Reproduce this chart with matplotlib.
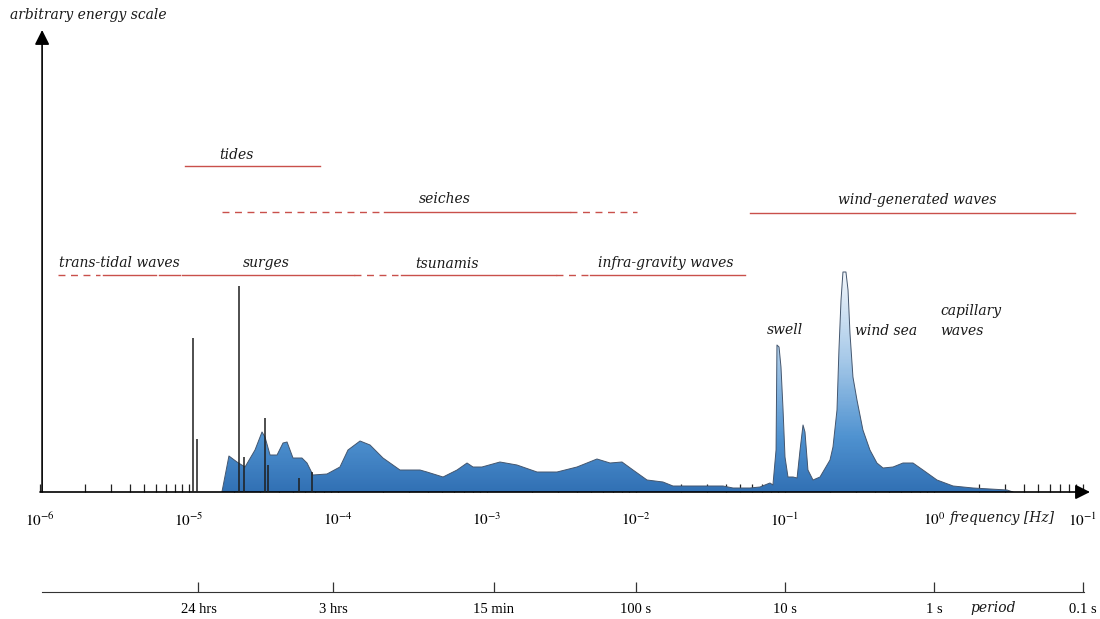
import matplotlib
import numpy as np

matplotlib.use("Agg")
import matplotlib.pyplot as plt
from matplotlib import ticker
from matplotlib.colors import LinearSegmentedColormap

plt.rcParams["mathtext.fontset"] = "stix"

# Spectrum outline: log10(frequency / Hz) and energy (arbitrary units)
spectrum_log_freq = [
    -4.779, -4.732, -4.678, -4.624, -4.557, -4.510, -4.490, -4.456, -4.409, -4.369,
    -4.342, -4.322, -4.302, -4.242, -4.208, -4.168, -4.074, -3.987, -3.933, -3.852,
    -3.785, -3.698, -3.584, -3.450, -3.403, -3.295, -3.201, -3.134, -3.094, -3.034,
    -2.913, -2.799, -2.664, -2.530, -2.396, -2.262, -2.174, -2.094, -2.020, -1.926,
    -1.819, -1.752, -1.416, -1.349, -1.235, -1.168, -1.101, -1.081, -1.060, -1.054,
    -1.040, -1.027, -1.013, -1.000, -0.980, -0.946, -0.919, -0.899, -0.879, -0.866,
    -0.846, -0.812, -0.765, -0.698, -0.678, -0.651, -0.638, -0.624, -0.611, -0.591,
    -0.577, -0.564, -0.544, -0.517, -0.477, -0.430, -0.383, -0.342, -0.275, -0.208,
    -0.141, -0.074, 0.020, 0.128, 0.262, 0.490, 0.530,
]
spectrum_energy = [
    0, 36, 30, 25, 42, 60, 55, 37, 37, 49,
    50, 42, 34, 34, 29, 17, 18, 25, 42, 51,
    47, 34, 22, 22, 20, 15, 22, 29, 25, 25,
    30, 27, 20, 20, 25, 33, 29, 30, 22, 12,
    10, 6, 6, 4, 4, 5, 9, 7, 42, 147,
    145, 125, 82, 35, 15, 15, 14, 42, 67, 60,
    22, 12, 15, 32, 45, 82, 142, 192, 220, 220,
    202, 159, 115, 92, 62, 42, 29, 24, 25, 29,
    29, 22, 12, 6, 4, 2, 0,
]

# Tidal constituents drawn as thin vertical lines
tide_line_log_freq = [-4.973, -4.946, -4.664, -4.631, -4.490, -4.470, -4.262, -4.174]
tide_line_energy = [154, 53, 206, 35, 74, 27, 14, 20]

freq_tick_exponents = [-6, -5, -4, -3, -2, -1, 0, 1]
freq_tick_labels = [r"$10^{-6}$", r"$10^{-5}$", r"$10^{-4}$", r"$10^{-3}$",
                    r"$10^{-2}$", r"$10^{-1}$", r"$10^{0}$", r"$10^{-1}$"]
period_seconds = [86400, 10800, 900, 100, 10, 1, 0.1]
period_labels = ["24 hrs", "3 hrs", "15 min", "100 s", "10 s", "1 s", "0.1 s"]

# Wave-type ranges (log10 frequency start, end, style) and their level on the energy axis
tides_segments = [(-5.03, -4.12, "solid")]
seiches_segments = [(-4.78, -3.69, "dashed"), (-3.69, -2.44, "solid"), (-2.44, -1.99, "dashed")]
wind_wave_segments = [(-1.235, 0.946, "solid")]
long_wave_segments = [(-5.88, -5.60, "dashed"), (-5.58, -5.22, "solid"), (-5.20, -5.06, "solid"),
                      (-5.05, -3.89, "solid"), (-3.89, -3.60, "dashed"), (-3.58, -2.54, "solid"),
                      (-2.54, -2.31, "dashed"), (-2.31, -1.27, "solid")]
range_rows = [(tides_segments, 326), (seiches_segments, 280),
              (wind_wave_segments, 279), (long_wave_segments, 217)]

range_labels = ["tides", "seiches", "wind-generated waves", "trans-tidal waves",
                "surges", "tsunamis", "infra-gravity waves", "swell", "wind sea"]
range_label_log_freq = [-4.68, -3.28, -0.11, -5.47, -4.48, -3.27, -1.80, -1.00, -0.32]
range_label_energy = [337, 293, 292, 229, 229, 228, 229, 162, 161]

W, H = 1100, 619
X0, X1 = 40, 1090          # pixel extent of the frequency axis
PX_PER_DECADE = 149
Y_BASE, Y_TOP = 492, 30


def px_to_logf(x):
    return (x - X0) / PX_PER_DECADE - 6


label_font = dict(family="DejaVu Serif", style="italic", fontsize=10, color="#1a1a1a")

fig = plt.figure(figsize=(W / 100, H / 100), dpi=100)
ax = fig.add_axes([X0 / W, 1 - Y_BASE / H, (X1 - X0) / W, (Y_BASE - Y_TOP) / H])
ax.set_xscale("log")
ax.set_xlim(10.0 ** -6, 10.0 ** px_to_logf(X1))
ax.set_ylim(0, Y_BASE - Y_TOP)
for spine in ax.spines.values():
    spine.set_visible(False)
ax.set_yticks([])
ax.patch.set_visible(False)

# spectrum with vertical gradient
freq = 10.0 ** np.array(spectrum_log_freq)
energy = np.array(spectrum_energy, dtype=float)
water = LinearSegmentedColormap.from_list(
    "water", [(0.0, "#3170b4"), (0.25, "#4f92d0"), (0.6, "#a5c8e8"), (1.0, "#f2f6fb")])
poly = ax.fill_between(freq, 0, energy, facecolor="none", edgecolor="none")
levels = np.linspace(0, energy.max(), 200)
mesh = ax.pcolormesh([freq.min(), freq.max()], levels,
                     ((levels[:-1] + levels[1:]) / 2).reshape(-1, 1),
                     cmap=water, shading="flat", zorder=2)
mesh.set_clip_path(poly.get_paths()[0], ax.transData)
ax.plot(freq, energy, color="#44566e", lw=0.7, zorder=3)

ax.vlines(10.0 ** np.array(tide_line_log_freq), 0, tide_line_energy,
          color="#1e1e1e", lw=1.1, zorder=4)

for segments, level in range_rows:
    for start, end, style in segments:
        ax.plot([10.0 ** start, 10.0 ** end], [level, level], color="#c9504b", lw=1.0,
                linestyle=(0, (5, 4)) if style == "dashed" else "-", zorder=3)

for name, lf, e in zip(range_labels, range_label_log_freq, range_label_energy):
    ax.text(10.0 ** lf, e, name, ha="center", va="center", **label_font)
ax.text(10.0 ** px_to_logf(940), 181, "capillary", ha="left", va="center", **label_font)
ax.text(10.0 ** px_to_logf(940), 161, "waves", ha="left", va="center", **label_font)

# frequency axis
ax.set_xticks(10.0 ** np.array(freq_tick_exponents, dtype=float), freq_tick_labels)
ax.xaxis.set_minor_locator(ticker.LogLocator(base=10, subs=np.arange(2, 10)))
ax.xaxis.set_minor_formatter(ticker.NullFormatter())
ax.tick_params(axis="x", which="both", direction="in", length=6, width=0.9,
               color="#222222", labelsize=11, pad=14)
ax.annotate("", xy=(1, 0), xytext=(0, 0), xycoords="axes fraction",
            arrowprops=dict(arrowstyle="-|>", color="black", lw=1.2, mutation_scale=22,
                            shrinkA=0, shrinkB=0))
ax.annotate("", xy=(0.002, 1), xytext=(0.002, 0), xycoords="axes fraction",
            arrowprops=dict(arrowstyle="-|>", color="black", lw=1.2, mutation_scale=22,
                            shrinkA=0, shrinkB=0))

# period axis
ax2 = fig.add_axes([X0 / W, 1 - 592 / H, (X1 - X0) / W, 0.01])
ax2.set_xscale("log")
ax2.set_xlim(ax.get_xlim())
ax2.patch.set_visible(False)
for side in ("top", "left", "right"):
    ax2.spines[side].set_visible(False)
ax2.spines["bottom"].set_bounds(10.0 ** px_to_logf(42), 10.0 ** px_to_logf(1084))
ax2.spines["bottom"].set_color("#333333")
ax2.set_yticks([])
ax2.set_xticks(1.0 / np.array(period_seconds, dtype=float), period_labels)
ax2.xaxis.set_minor_locator(ticker.NullLocator())
ax2.tick_params(axis="x", direction="in", length=7, width=0.9, color="#333333",
                labelsize=10.5, pad=8)
for lab in ax2.get_xticklabels():
    lab.set_family("Liberation Serif")

fig.text(10 / W, 1 - 15 / H, "arbitrary energy scale", ha="left", va="center", **label_font)
fig.text(1002 / W, 1 - 518 / H, "frequency [Hz]", ha="center", va="center", **label_font)
fig.text(993 / W, 1 - 608 / H, "period", ha="center", va="center", **label_font)

fig.savefig("out.png", dpi=100)
